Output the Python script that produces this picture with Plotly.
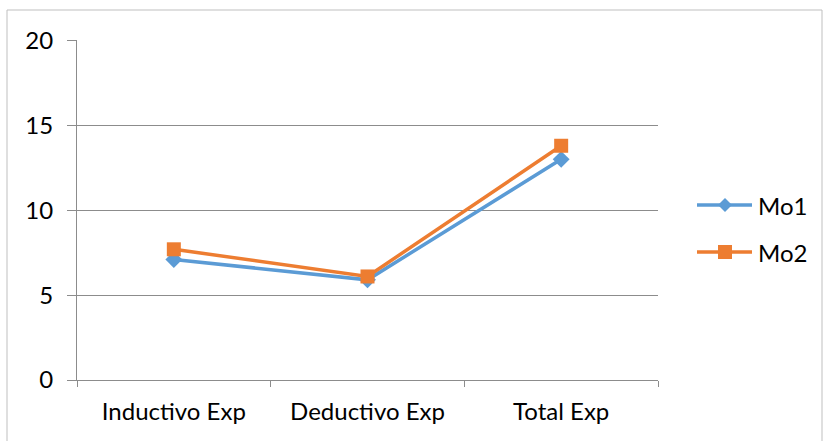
import plotly.graph_objects as go

categories = ["Inductivo Exp", "Deductivo Exp", "Total Exp"]
series_names = ["Mo1", "Mo2"]
mo1 = [7.1, 5.9, 13.0]
mo2 = [7.7, 6.1, 13.8]
y_ticks = [0, 5, 10, 15, 20]

BLUE = "#5B9BD5"
ORANGE = "#ED7D31"
GRID = "#8C8C8C"
FONT = "Lato"

fig = go.Figure()
fig.add_trace(go.Scatter(
    x=categories, y=mo1, name=series_names[0], mode="lines+markers",
    line=dict(color=BLUE, width=3.5),
    marker=dict(symbol="diamond", size=13, color=BLUE),
))
fig.add_trace(go.Scatter(
    x=categories, y=mo2, name=series_names[1], mode="lines+markers",
    line=dict(color=ORANGE, width=3.5),
    marker=dict(symbol="square", size=14, color=ORANGE),
))

L, R, T, B = 77, 166, 40, 61
W, H = 824, 441
pw, ph = W - L - R, H - T - B


def px_x(v):
    return (v - L) / pw


def px_y(v):
    return (H - B - v) / ph


tick_font = dict(family=FONT, size=24, color="#000000")

shapes = [dict(
    type="rect", xref="paper", yref="paper",
    x0=px_x(7), x1=px_x(822), y0=-0.5, y1=px_y(10),
    line=dict(color="#BFBFBF", width=1), layer="below",
)]
annotations = []

# Hand-built legend: a longer sample line with the marker in its middle
legend_rows = [(series_names[0], BLUE, "diamond", 205), (series_names[1], ORANGE, "square", 252)]
for name, color, kind, cy in legend_rows:
    shapes.append(dict(
        type="line", xref="paper", yref="paper",
        x0=px_x(697), x1=px_x(752), y0=px_y(cy), y1=px_y(cy),
        line=dict(color=color, width=3.5),
    ))
    cx = 725
    if kind == "diamond":
        path = (f"M {px_x(cx - 7)} {px_y(cy)} L {px_x(cx)} {px_y(cy - 7)} "
                f"L {px_x(cx + 7)} {px_y(cy)} L {px_x(cx)} {px_y(cy + 7)} Z")
        shapes.append(dict(type="path", xref="paper", yref="paper", path=path,
                           fillcolor=color, line=dict(color=color, width=0)))
    else:
        shapes.append(dict(type="rect", xref="paper", yref="paper",
                           x0=px_x(cx - 7), x1=px_x(cx + 7),
                           y0=px_y(cy + 7), y1=px_y(cy - 7),
                           fillcolor=color, line=dict(color=color, width=0)))
    annotations.append(dict(
        text=name, xref="paper", yref="paper", x=px_x(756), y=px_y(cy),
        xanchor="left", yanchor="middle", showarrow=False,
        font=dict(family=FONT, size=24, color="#000000"),
    ))

fig.update_layout(
    width=W, height=H,
    margin=dict(l=L, r=R, t=T, b=B),
    paper_bgcolor="white", plot_bgcolor="white",
    font=dict(family=FONT, size=24, color="#000000"),
    showlegend=False,
    xaxis=dict(
        type="category", showgrid=False, showline=True, linecolor=GRID, linewidth=1,
        ticks="outside", tickson="boundaries", ticklen=6, tickcolor=GRID,
        range=[-0.5, 2.5], tickfont=tick_font, ticklabelstandoff=10,
    ),
    yaxis=dict(
        range=[0, 20.03], tickvals=y_ticks, showgrid=True, gridcolor=GRID, gridwidth=1,
        showline=True, linecolor=GRID, linewidth=1, zeroline=False,
        ticks="outside", ticklen=9, tickcolor=GRID, tickfont=tick_font,
        ticklabelstandoff=9,
    ),
    shapes=shapes,
    annotations=annotations,
)

fig.write_html("out.html")
